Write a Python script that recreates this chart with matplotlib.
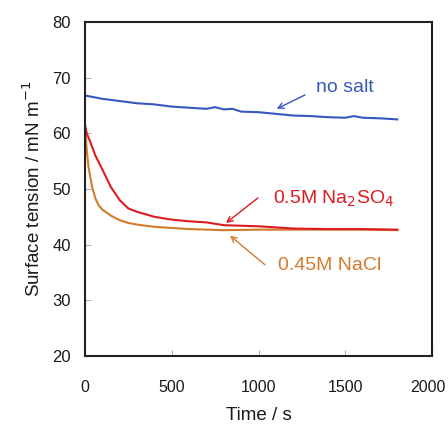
import numpy as np
import matplotlib
matplotlib.use("Agg")
import matplotlib.pyplot as plt
from matplotlib.transforms import ScaledTranslation

plt.rcParams['font.family'] = ['Liberation Sans', 'DejaVu Sans']

# values
t_nosalt = [0, 50, 100, 200, 300, 400, 500, 600, 700, 750, 800, 850, 900, 1000,
            1100, 1200, 1300, 1400, 1500, 1550, 1600, 1700, 1800]
g_nosalt = [66.8, 66.5, 66.2, 65.8, 65.4, 65.2, 64.8, 64.6, 64.4, 64.7, 64.3, 64.4,
            63.9, 63.8, 63.5, 63.2, 63.1, 62.9, 62.8, 63.1, 62.8, 62.7, 62.5]

t_na2so4 = [0, 10, 30, 60, 100, 150, 200, 250, 300, 400, 500, 600, 700, 800,
            900, 1000, 1100, 1200, 1400, 1600, 1800]
g_na2so4 = [61.5, 60.0, 58.5, 56.0, 53.5, 50.3, 48.0, 46.5, 45.9, 45.0, 44.5, 44.2,
            44.0, 43.5, 43.4, 43.3, 43.1, 42.9, 42.8, 42.8, 42.7]

t_nacl = [0, 10, 20, 40, 60, 80, 100, 150, 200, 250, 300, 400, 500, 600, 800,
          1000, 1200, 1400, 1600, 1800]
g_nacl = [61.5, 57.0, 54.0, 50.5, 48.3, 47.0, 46.3, 45.2, 44.4, 43.9, 43.6, 43.2,
          43.0, 42.8, 42.6, 42.7, 42.7, 42.7, 42.7, 42.6]

c_blue = '#3658c0'
c_red = '#dd1c22'
c_orange = '#d47a2c'
c_text = '#1a1a1a'

fig = plt.figure(figsize=(4.48, 4.28), dpi=100)
ax = fig.add_axes([85 / 448, 1 - 356 / 428, (432 - 85) / 448, (356 - 22) / 428])

ax.plot(t_nosalt, g_nosalt, color=c_blue, lw=1.5)
ax.plot(t_nacl, g_nacl, color=c_orange, lw=1.5)
ax.plot(t_na2so4, g_na2so4, color=c_red, lw=1.5)

ax.set_xlim(0, 2000)
ax.set_ylim(20, 80)
ax.set_xticks([0, 500, 1000, 1500, 2000])
ax.set_yticks([20, 30, 40, 50, 60, 70, 80])
ax.tick_params(direction='in', length=4, width=0.8, color='#b0b0b0',
               labelsize=12, labelcolor=c_text, pad=10)
ax.tick_params(axis='x', labelsize=11.5, pad=17)
for s in ax.spines.values():
    s.set_linewidth(1.5)
    s.set_color('#222222')

# keep the last x label inside the canvas
last = ax.get_xticklabels()[-1]
last.set_transform(last.get_transform() + ScaledTranslation(-4 / 100, 0, fig.dpi_scale_trans))

ax.set_xlabel('Time / s', fontsize=13.5, color=c_text, labelpad=9)
ax.set_ylabel('Surface tension / mN m$^{-1}$', fontsize=13.5, color=c_text, labelpad=6)

arrow = dict(arrowstyle='->', lw=1, shrinkA=0, shrinkB=0)
ax.text(1331, 68.3, 'no salt', color=c_blue, fontsize=14, va='center')
ax.annotate('', xy=(1105, 64.4), xytext=(1268, 66.9), arrowprops={**arrow, 'color': c_blue})
ax.text(1084, 48.3, '0.5M Na$_2$SO$_4$', color=c_red, fontsize=14, va='center')
ax.annotate('', xy=(813, 43.9), xytext=(997, 48.4), arrowprops={**arrow, 'color': c_red})
ax.text(1112, 36.2, '0.45M NaCl', color=c_orange, fontsize=14, va='center')
ax.annotate('', xy=(836, 41.6), xytext=(1037, 36.4), arrowprops={**arrow, 'color': c_orange})

fig.savefig('out.png', dpi=100)
